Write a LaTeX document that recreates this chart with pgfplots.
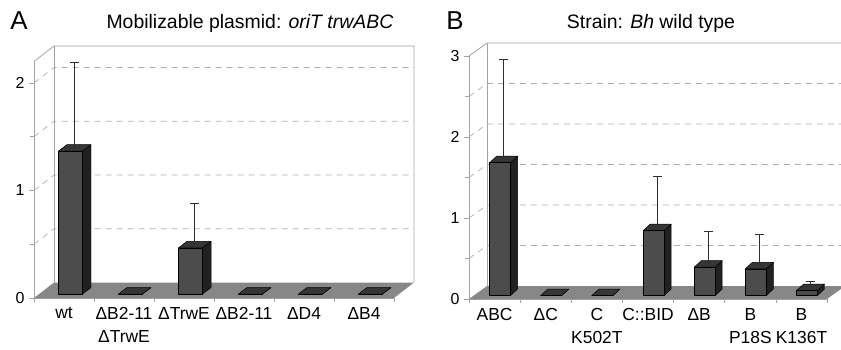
\documentclass[border=0pt]{standalone}
\usepackage{pgfplots}
\pgfplotsset{compat=1.18}
\usepackage{pgfplotstable}
\usepackage{fontspec}
\setmainfont{Liberation Sans}

\definecolor{barfront}{gray}{0.30}
\definecolor{bartop}{gray}{0.21}
\definecolor{barside}{gray}{0.13}
\definecolor{floorc}{gray}{0.53}
\definecolor{wallc}{gray}{0.64}
\definecolor{gridc}{gray}{0.68}
\definecolor{errc}{gray}{0.18}

% category index, value, error (upper)
\pgfplotstableread{
x v e
0 1.33 0.79
1 0 0
2 0.43 0.38
3 0 0
4 0 0
5 0 0
}\dataA

\pgfplotstableread{
x v e
0 1.64 1.24
1 0 0
2 0 0
3 0.80 0.63
4 0.35 0.40
5 0.33 0.39
6 0.06 0.07
}\dataB

\newcommand\cubebar[2]{%
  \pgfmathsetmacro\xl{#1+0.5-\hw+\ox}%
  \pgfmathsetmacro\xr{#1+0.5+\hw+\ox}%
  \pgfmathsetmacro\yb{\oy}%
  \pgfmathsetmacro\yt{#2+\oy}%
  \pgfmathsetmacro\xlb{\xl+\ddx}%
  \pgfmathsetmacro\xrb{\xr+\ddx}%
  \pgfmathsetmacro\ybb{\yb+\ddy}%
  \pgfmathsetmacro\ytb{\yt+\ddy}%
  \edef\tmp{%
    \noexpand\addplot[fill=barside, draw=black, line width=0.5pt, line join=round] coordinates {(\xr,\yb) (\xrb,\ybb) (\xrb,\ytb) (\xr,\yt)} -- cycle;
    \noexpand\addplot[fill=bartop, draw=black, line width=0.5pt, line join=round] coordinates {(\xl,\yt) (\xr,\yt) (\xrb,\ytb) (\xlb,\ytb)} -- cycle;
    \noexpand\addplot[fill=barfront, draw=black, line width=0.5pt, line join=round] coordinates {(\xl,\yb) (\xr,\yb) (\xr,\yt) (\xl,\yt)} -- cycle;
  }\tmp
}

\newcommand\drawbars[1]{%
  \pgfplotstablegetrowsof{#1}\pgfmathtruncatemacro\nrows{\pgfplotsretval-1}%
  \pgfplotsforeachungrouped \i in {0,...,\nrows}{%
    \pgfplotstablegetelem{\i}{x}\of{#1}\let\cx\pgfplotsretval
    \pgfplotstablegetelem{\i}{v}\of{#1}\let\cv\pgfplotsretval
    \cubebar{\cx}{\cv}%
  }%
}

\newcommand\drawwalls[1]{% #1 = list of grid values
  \addplot[draw=none, fill=floorc] coordinates {(0,0) (\N,0) (\N+\DX,\DY) (\DX,\DY)} -- cycle;
  \pgfplotsinvokeforeach{#1}{%
    \draw[gridc, dash pattern=on 6bp off 5bp, line width=0.7pt] (axis cs:0,##1) -- (axis cs:\DX,##1+\DY) -- (axis cs:\N+\DX,##1+\DY);
  }
  \draw[wallc, line width=0.8pt] (axis cs:0,\YM) -- (axis cs:\DX,\YM+\DY) -- (axis cs:\N+\DX,\YM+\DY) -- (axis cs:\N+\DX,\DY);
  \draw[wallc, line width=0.8pt] (axis cs:\DX,\DY) -- (axis cs:\DX,\YM+\DY);
}

% error bar (vertical line from the top face) and its cap
\newcommand\drawerrors[3]{% table, x shift, y shift
  \addplot[draw=none, mark=none,
    error bars/.cd, y dir=plus, y explicit, error mark=none,
    error bar style={errc, line width=0.9pt}]
    table[x expr=\thisrow{x}+#2, y expr=\thisrow{v}+#3, y error=e,
          restrict expr to domain={\thisrow{e}}{0.001:10}] {#1};
  \addplot[only marks, mark=-, mark size=4.5bp, mark options={draw=errc, line width=0.9pt}]
    table[x expr=\thisrow{x}+#2, y expr=\thisrow{v}+\thisrow{e}+#3,
          restrict expr to domain={\thisrow{e}}{0.001:10}] {#1};
}

\pgfplotsset{
  cube3d/.style={
    clip=false,
    xmin=0, ymin=0,
    enlargelimits=false,
    axis lines=left,
    axis line style={-, wallc, line width=0.8pt},
    tick align=outside,
    major tick length=5bp,
    minor tick length=4bp,
    tick style={wallc, line width=0.7pt},
    major x tick style={draw=none},
    /pgf/number format/assume math mode=true,
    yticklabel style={font=\fontsize{16}{16}\selectfont, text=black, xshift=-1bp},
    xticklabel style={font=\fontsize{17.5}{23}\selectfont, align=center, text=black, anchor=north, yshift=-1bp},
  },
}

\begin{document}
\begin{tikzpicture}
\useasboundingbox (0,0) rectangle (841bp,350bp);

% ---------------- Panel A ----------------
\def\N{6}\def\DX{0.333}\def\DY{0.144}\def\YM{2.2}
\def\hw{0.2}\def\ox{0.108}\def\oy{0.037}\def\ddx{0.142}\def\ddy{0.06}
\begin{axis}[cube3d,
  at={(34bp,52bp)}, anchor=south west,
  x=60bp, y=107.5bp,
  xmax=6, ymax=2.2,
  ytick={0,1,2}, minor ytick={0.5,1.5},
  xtick={0.5,1.5,...,5.5}, minor xtick={0,...,6},
  xticklabels={wt, {ΔB2-11\\ΔTrwE}, ΔTrwE, ΔB2-11, ΔD4, ΔB4},
]
\drawwalls{0.5,1,1.5,2}
\drawbars{\dataA}
\drawerrors{\dataA}{0.679}{0.067}
\end{axis}

% ---------------- Panel B ----------------
\def\N{7}\def\DX{0.352}\def\DY{0.16}\def\YM{3}
\def\hw{0.205}\def\ox{0.108}\def\oy{0.043}\def\ddx{0.137}\def\ddy{0.08}
\begin{axis}[cube3d,
  at={(469bp,51bp)}, anchor=south west,
  x=51.15bp, y=81bp,
  xmax=7, ymax=3,
  ytick={0,1,2,3}, minor ytick={0.5,1.5,2.5},
  xtick={0.5,1.5,...,6.5}, minor xtick={0,...,7},
  xticklabels={ABC, ΔC, {C\\K502T}, C::BID, ΔB, {B\\P18S}, {B\\K136T}},
]
\drawwalls{0.5,1,1.5,2,2.5}
\drawbars{\dataB}
\drawerrors{\dataB}{0.676}{0.083}
\end{axis}

% titles and panel letters
\node[font=\fontsize{26}{26}\selectfont] at (19bp,329bp) {A};
\node[font=\fontsize{26}{26}\selectfont] at (455bp,329bp) {B};
\node[font=\fontsize{19.5}{19.5}\selectfont] at (250bp,327bp) {Mobilizable plasmid: \textit{oriT trwABC}};
\node[font=\fontsize{19.5}{19.5}\selectfont] at (651bp,327bp) {Strain: \textit{Bh} wild type};
\end{tikzpicture}
\end{document}
